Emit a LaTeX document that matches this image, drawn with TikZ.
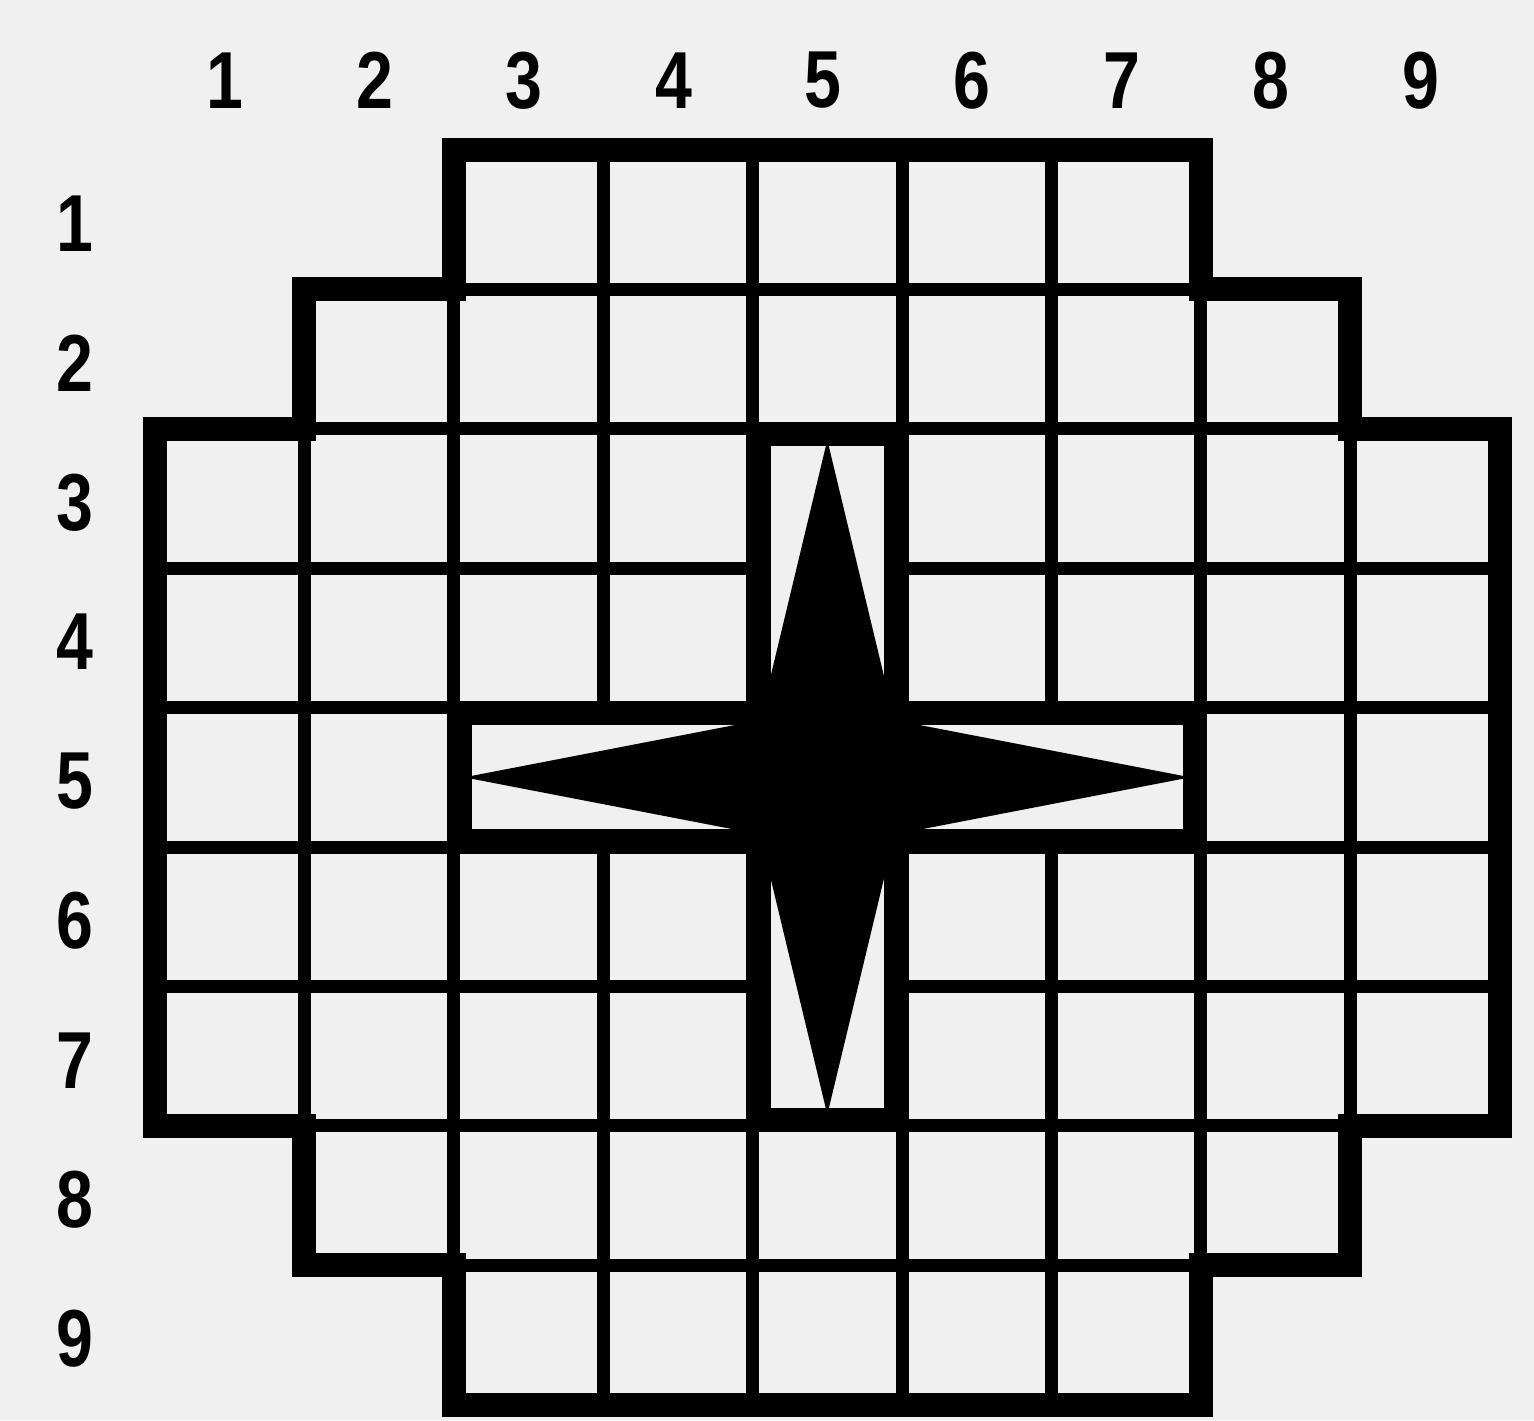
\documentclass[tikz,border=0pt]{standalone}
\usepackage{fontspec}
\newfontfamily\numfont[FakeStretch=0.82]{Liberation Sans}
\usetikzlibrary{calc}

\begin{document}
\begin{tikzpicture}[
        paper/.style={fill=black!6},
        number/.style={font=\numfont\bfseries\fontsize{23}{23}\selectfont, inner sep=0pt},
        gridline/.style={line width=3.7pt, draw=black},
        border/.style={line width=6.8pt, draw=black, line join=miter},
        star/.style={fill=black, draw=none}
    ]
        \fill[paper, use as bounding box] (0,0) rectangle (15.34,-14.20);

        % Tablero 9x9 (celdas: x hacia la derecha, y hacia abajo)
        \begin{scope}[shift={(1.55,-1.50)}, x=1.494cm, y=-1.394cm]
            % Rejilla interior
            \foreach \i/\a/\b in {1/1/8, 2/0/9, 3/0/9, 4/0/9, 5/0/9, 6/0/9, 7/0/9, 8/1/8} {
                \draw[gridline] (\i,\a) -- (\i,\b);
                \draw[gridline] (\a,\i) -- (\b,\i);
            }
            % Borde exterior escalonado, tramo a tramo
            \foreach \xa/\ya/\xb/\yb in {2/0/7/0, 7/0/7/1, 7/1/8/1, 8/1/8/2, 8/2/9/2, 9/2/9/7, 9/7/8/7, 8/7/8/8, 8/8/7/8, 7/8/7/9,
                                         7/9/2/9, 2/9/2/8, 2/8/1/8, 1/8/1/7, 1/7/0/7, 0/7/0/2, 0/2/1/2, 1/2/1/1, 1/1/2/1, 2/1/2/0}
                \draw[border, line cap=rect] (\xa,\ya) -- (\xb,\yb);

            % Cruz central
            \draw[border, paper] (4.04,2.04) -- (4.96,2.04) -- (4.96,4.04) -- (6.96,4.04) -- (6.96,4.96) -- (4.96,4.96) -- (4.96,6.96) -- (4.04,6.96) -- (4.04,4.96) -- (2.04,4.96) -- (2.04,4.04) -- (4.04,4.04) -- cycle;

            % Estrella de cuatro puntas
            \fill[star] (4.5,2.08) -- (4.95,4.09) -- (6.93,4.5) -- (4.95,4.91) -- (4.5,6.92) -- (4.05,4.91) -- (2.07,4.5) -- (4.05,4.09) -- cycle;

            % Numeración de columnas y filas
            \foreach \i in {1,...,9} {
                \node[number] (col\i) at (\i-0.53, -0.5) {\i};
                \node[number] (row\i) at (-0.535, \i-0.47) {\i};
            }
        \end{scope}
    \end{tikzpicture}
\end{document}
